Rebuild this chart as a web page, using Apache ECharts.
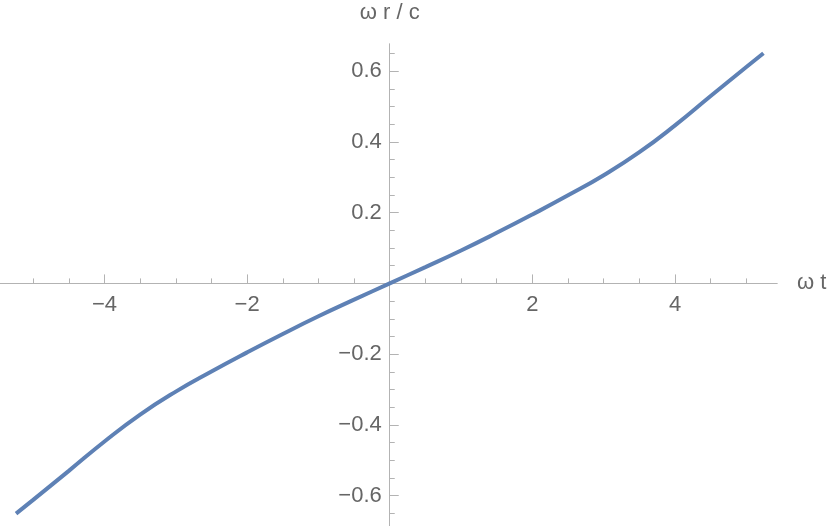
<!DOCTYPE html>
<html>
<head>
<meta charset="utf-8">
<script src="https://cdn.jsdelivr.net/npm/echarts@6/dist/echarts.min.js"></script>
<style>
  html, body { margin: 0; padding: 0; background: #fff; }
  #chart { width: 830px; height: 526px; }
</style>
</head>
<body>
<div id="chart"></div>
<script>
// ω t values and the matching ω r / c
const omegaT = [-5.24, -5, -4.5, -4, -3.5, -3, -2.5, -2, -1.5, -1, -0.5, 0,
  0.5, 1, 1.5, 2, 2.5, 3, 3.5, 4, 4.5, 5, 5.24];
const omegaRc = [-0.651, -0.612, -0.530, -0.447, -0.371, -0.306, -0.249, -0.195, -0.143, -0.093, -0.046, 0,
  0.046, 0.093, 0.143, 0.195, 0.249, 0.306, 0.371, 0.447, 0.530, 0.612, 0.651];

const xMajorTicks = [-4, -2, 2, 4];
const xMinorTicks = [-5, -4.5, -3.5, -3, -2.5, -1.5, -1, -0.5, 0.5, 1, 1.5, 2.5, 3, 3.5, 4.5, 5];
const yMajorTicks = [-0.6, -0.4, -0.2, 0.2, 0.4, 0.6];
const yMinorTicks = [-0.65, -0.55, -0.5, -0.45, -0.35, -0.3, -0.25, -0.15, -0.1, -0.05,
  0.05, 0.1, 0.15, 0.25, 0.3, 0.35, 0.45, 0.5, 0.55, 0.65];

const X_MIN = -5.465, X_MAX = 5.43;
const Y_MIN = -0.686, Y_MAX = 0.677;

const axisGray = '#b3b3b3';
const labelGray = '#666666';
const font = 'Liberation Sans, Arial, sans-serif';
const fontSize = 22;

const fmt = v => (v < 0 ? '\u2212' + (-v) : String(v));

const chart = echarts.init(document.getElementById('chart'));

// the x axis sits on y = 0 and the y axis on x = 0, so each gets its own grid
// whose edge lies on that line
const zeroY = 44 + 482 * Y_MAX / (Y_MAX - Y_MIN);
const zeroX = 777 * (-X_MIN) / (X_MAX - X_MIN);

const hidden = { show: false };

const xTickAxis = (ticks, len, extra) => Object.assign({
  type: 'value', gridIndex: 1, position: 'bottom', min: X_MIN, max: X_MAX,
  splitLine: hidden,
  axisLine: { show: true, onZero: false, lineStyle: { color: axisGray, width: 1 } },
  axisTick: { show: true, inside: true, length: len, customValues: ticks, lineStyle: { color: axisGray } },
  axisLabel: { show: false },
}, extra);

const yTickAxis = (ticks, len, extra) => Object.assign({
  type: 'value', gridIndex: 2, position: 'left', min: Y_MIN, max: Y_MAX,
  splitLine: hidden,
  axisLine: { show: true, onZero: false, lineStyle: { color: axisGray, width: 1 } },
  axisTick: { show: true, inside: true, length: len, customValues: ticks, lineStyle: { color: axisGray } },
  axisLabel: { show: false },
}, extra);

chart.setOption({
  animation: false,
  grid: [
    { left: 0, width: 777, top: 44, height: 482, outerBoundsMode: 'none' },
    { left: 0, width: 777, top: 44, height: zeroY - 44, outerBoundsMode: 'none' },
    { left: zeroX, right: 0, top: 44, height: 482, outerBoundsMode: 'none' },
  ],
  xAxis: [
    { type: 'value', gridIndex: 0, min: X_MIN, max: X_MAX, show: false },
    xTickAxis(xMajorTicks, 9, {
      name: 'ω t',
      nameLocation: 'end',
      nameGap: 20,
      nameTextStyle: { color: labelGray, fontSize: fontSize, fontFamily: font },
      axisLabel: { show: true, customValues: xMajorTicks, formatter: fmt, margin: 11,
        color: labelGray, fontSize: fontSize, fontFamily: font },
    }),
    xTickAxis(xMinorTicks, 5),
    { type: 'value', gridIndex: 2, min: 0, max: 1, show: false },
  ],
  yAxis: [
    { type: 'value', gridIndex: 0, min: Y_MIN, max: Y_MAX, show: false },
    { type: 'value', gridIndex: 1, min: 0, max: 1, show: false },
    yTickAxis(yMajorTicks, 9, {
      name: 'ω r / c',
      nameLocation: 'end',
      nameGap: 20,
      nameTextStyle: { color: labelGray, fontSize: fontSize, fontFamily: font },
      axisLabel: { show: true, customValues: yMajorTicks, formatter: fmt, margin: 8,
        color: labelGray, fontSize: fontSize, fontFamily: font },
    }),
    yTickAxis(yMinorTicks, 5),
  ],
  series: [{
    type: 'line',
    xAxisIndex: 0,
    yAxisIndex: 0,
    data: omegaT.map((t, i) => [t, omegaRc[i]]),
    smooth: 0.5,
    showSymbol: false,
    lineStyle: { color: '#5e81b5', width: 4 },
  }],
});
</script>
</body>
</html>
